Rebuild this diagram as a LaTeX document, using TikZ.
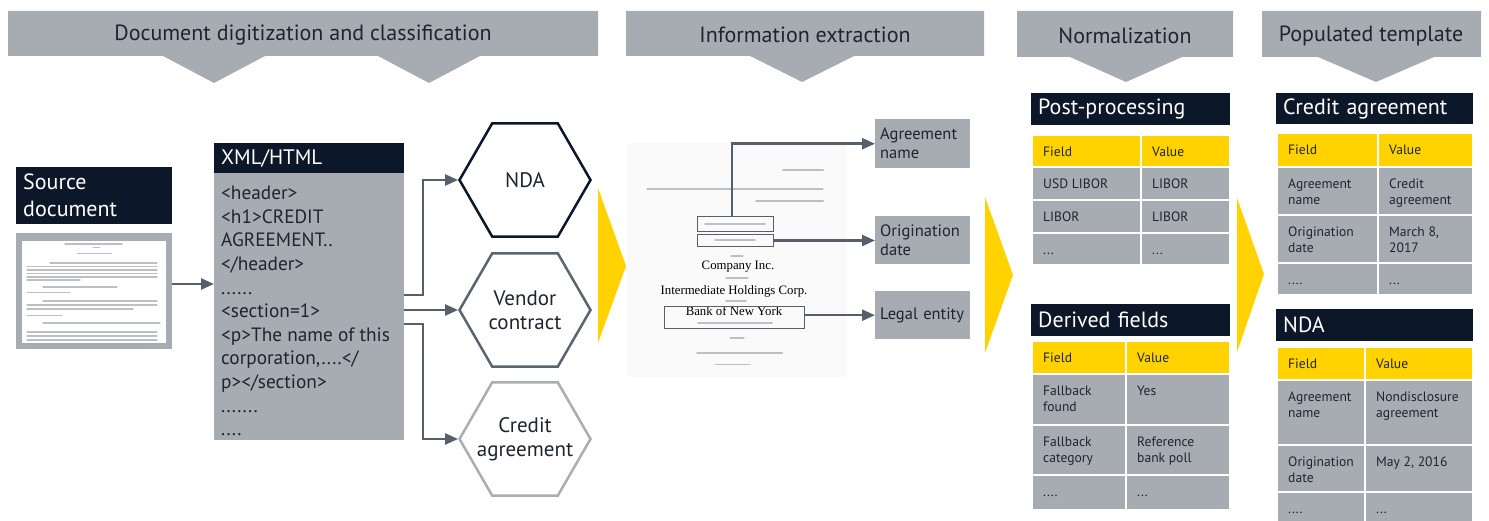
\documentclass[tikz,border=0pt]{standalone}
\usepackage{fontspec}
\setmainfont{PT Sans}
\newfontfamily\serifdoc{Liberation Serif}
\usetikzlibrary{arrows.meta,shapes.geometric}
\definecolor{eygray}{HTML}{A7ACB2}
\definecolor{eynavy}{HTML}{0C1729}
\definecolor{eyline}{HTML}{56606B}
\definecolor{eyyellow}{HTML}{FFD200}
\definecolor{eytext}{HTML}{1E2530}
\definecolor{eymid}{HTML}{5B6570}
\definecolor{eylight}{HTML}{A9AEB3}
\definecolor{blurgray}{HTML}{BCBFC3}
\definecolor{docbg}{HTML}{FAFAFA}
\newcommand\tcell[7]{%
  \fill[#5, draw=white, line width=1.3pt] (#1,#2) rectangle ++(#3,#4);
  \node[celltext] (#7) at (#1,#2) [xshift=11pt, yshift=-10pt] {\strut #6};}
\begin{document}
\begin{tikzpicture}[x=1pt,y=-1pt,
  banner/.style={fill=eygray},
  bannertext/.style={font=\fontsize{22}{26}\selectfont, text=eytext, inner sep=0pt},
  conn/.style={draw=eyline, line width=2.4pt, -{Triangle[length=13pt,width=11pt]}},
  hexa/.style={regular polygon, regular polygon sides=6, minimum size=131pt, inner sep=0pt,
    line width=2.5pt, fill=white},
  hexatext/.style={align=center, inner sep=0pt, font=\fontsize{21}{24}\selectfont, text=eytext},
  chev/.style={fill=eyyellow},
  navyhead/.style={fill=eynavy, text=white, anchor=north west, inner xsep=7pt, inner ysep=0pt,
    align=left, font=\fontsize{22}{27}\selectfont},
  graybox/.style={fill=eygray, text=eytext, anchor=north west, inner xsep=5pt, inner ysep=0pt,
    text width=85pt, align=left, font=\fontsize{16.5}{19}\selectfont},
  celltext/.style={anchor=north west, inner sep=0pt, align=left, text=eytext,
    font=\fontsize{13.6}{16}\selectfont},
  blur/.style={draw=blurgray, line width=1.8pt, line cap=round},
  docbox/.style={draw=eyline, line width=1pt, inner sep=0pt, anchor=north west},
  doctext/.style={font=\serifdoc\fontsize{12.8}{15}\selectfont, text=black, inner sep=0pt}
]
\useasboundingbox (0,0) rectangle (1489,521);

% ---------- banners ----------
\fill[banner] (8,11) -- (598,11) -- (598,56) -- (480,56) -- (429,83) -- (378,56) -- (265,56)
  -- (214,83) -- (163,56) -- (8,56) -- cycle;
\node[bannertext] (b1) at (303,35) {Document digitization and classification};
\fill[banner] (626,11) -- (984,11) -- (984,56) -- (854,56) -- (802,82) -- (750,56) -- (626,56) -- cycle;
\node[bannertext] (b2) at (805,35) {Information extraction};
\fill[banner] (1017,11) -- (1233,11) -- (1233,57) -- (1182,57) -- (1126,82) -- (1070,57) -- (1017,57) -- cycle;
\node[bannertext] (b3) at (1125,36) {Normalization};
\fill[banner] (1262,11) -- (1481,11) -- (1481,57) -- (1434,57) -- (1376,82) -- (1318,57) -- (1262,57) -- cycle;
\node[bannertext] (b4) at (1371,36) {Populated template};

% ---------- source document ----------
\node[navyhead, text width=142pt, minimum height=57pt] (srclabel) at (16,167) {Source\\document};
\node[fill=eygray, minimum width=156pt, minimum height=116pt, inner sep=0pt, anchor=north west] (srcimg) at (16,233) {};
\fill[white] (22,241) rectangle (166,343);
\draw[blur] (65,244) -- (122,244);
\draw[blur, line width=1pt] (93,248) -- (100,248);
\draw[blur, line width=0.8pt] (77,253) -- (112,253);
\draw[blur, line width=1.3pt] (50,263) -- (157,263);
\foreach \yy in {266.5,270,273.5,277} {\draw[blur, line width=1.3pt] (27,\yy) -- (157,\yy);}
\draw[blur, line width=1.3pt] (27,280) -- (80,280);
\draw[blur, line width=1.3pt] (43,287) -- (117,287);
\draw[blur, line width=0.8pt] (27,292) -- (70,292);
\draw[blur, line width=1.3pt] (43,301) -- (157,301);
\draw[blur, line width=1.3pt] (27,305) -- (157,305);
\draw[blur, line width=1.3pt] (27,309) -- (133,309);
\draw[blur, line width=0.8pt] (27,315) -- (62,315);
\draw[blur, line width=1.3pt] (43,323) -- (160,323);
\foreach \yy in {332,336,340} {\draw[blur, line width=1.3pt] (27,\yy) -- (157,\yy);}

% ---------- XML/HTML ----------
\node[navyhead, text width=176pt, minimum height=30pt, font=\fontsize{21}{24}\selectfont] (xmlhead) at (214,143) {XML/HTML};
\node[fill=eygray, minimum width=190pt, minimum height=267pt, inner sep=0pt, anchor=north west] (xmlbody) at (214,173) {};
\node[anchor=north west, inner sep=0pt, align=left, text=eytext, font=\fontsize{19.3}{23.6}\selectfont] (xmltext) at (221,183)
  {\strut<header>\\<h1>CREDIT\\AGREEMENT..\\</header>\\......\\<section=1>\\<p>The name of this\\corporation,....</\\p></section>\\.......\\....};

\coordinate (srcout) at (172,284);
\draw[conn] (srcout) -- (srcout -| xmlbody.west);

% ---------- hexagons ----------
\node[hexa, draw=eynavy] (nda) at (525,180) {};
\node[hexatext] (ndatext) at (nda.center) {NDA};
\node[hexa, draw=eymid] (vendor) at (525,310) {};
\node[hexatext] (vendortext) at (vendor.center) {Vendor\\contract};
\node[hexa, draw=eylight] (credit) at (525,439) {};
\node[hexatext] (credittext) at (credit.center) {Credit\\agreement};

\coordinate (x1) at (404,295);
\coordinate (x2) at (404,310);
\coordinate (x3) at (404,324);
\draw[conn] (x1) -- (423,295) |- (nda.west);
\draw[conn] (x2) -- (vendor.west);
\draw[conn] (x3) -- (423,324) |- (credit.west);

% ---------- chevrons ----------
\fill[chev] (598,188) -- (626,266) -- (598,343) -- cycle;
\fill[chev] (985,197) -- (1013,275) -- (985,353) -- cycle;
\fill[chev] (1237,198) -- (1264,274) -- (1237,352) -- cycle;

% ---------- information extraction document ----------
\fill[docbg] (627,143) rectangle (847,377);
\draw[blur, line width=2pt] (783,170) -- (823,170);
\draw[blur, line width=1.2pt] (647,189) -- (823,189);
\draw[blur, line width=2pt] (756,201) -- (823,201);
\draw[blur, line width=2pt] (705,224) -- (765,224);
\draw[blur, line width=1.6pt] (715,240) -- (755,240);
\draw[blur, line width=1.2pt] (731,256) -- (743,256);
\draw[blur, line width=1.2pt] (726,278) -- (748,278);
\draw[blur, line width=1.2pt] (726,301) -- (746,301);
\draw[blur, line width=1.6pt] (698,323) -- (772,323);
\draw[blur, line width=1.2pt] (730,338) -- (744,338);
\draw[blur, line width=2pt] (697,353) -- (782,353);
\draw[blur, line width=1pt] (715,365) -- (750,365);
\node[doctext] (company) at (738,267) {Company Inc.};
\node[doctext] (holdings) at (734,291) {Intermediate Holdings Corp.};
\node[doctext] (bank) at (734,311) {Bank of New York};
\node[docbox, minimum width=76pt, minimum height=15pt] (box1) at (697,216) {};
\node[docbox, minimum width=76pt, minimum height=12pt] (box2) at (697,234) {};
\node[docbox, minimum width=140pt, minimum height=22pt] (bankbox) at (664,306) {};

\node[graybox, minimum height=49pt] (agrname) at (875,119) {Agreement\\name};
\node[graybox, minimum height=48pt] (origdate) at (875,216) {Origination\\date};
\node[graybox, minimum height=48pt] (legal) at (875,291) {\mbox{Legal entity}};

\coordinate (b1top) at (732,216);
\draw[conn] (b1top) |- (agrname.west);
\draw[conn] (box2.east) -- (box2.east -| origdate.west);
\draw[conn] (legal.west -| bankbox.east) -- (legal.west);

% ---------- post-processing ----------
\node[navyhead, text width=185pt, minimum height=32pt] (pp) at (1031,93) {Post-processing};
\tcell{1032}{135}{109}{32}{eyyellow}{Field}{pp11}
\tcell{1141}{135}{89}{32}{eyyellow}{Value}{pp12}
\tcell{1032}{167}{109}{33}{eygray}{USD LIBOR}{pp21}
\tcell{1141}{167}{89}{33}{eygray}{LIBOR}{pp22}
\tcell{1032}{200}{109}{33}{eygray}{LIBOR}{pp31}
\tcell{1141}{200}{89}{33}{eygray}{LIBOR}{pp32}
\tcell{1032}{233}{109}{32}{eygray}{...}{pp41}
\tcell{1141}{233}{89}{32}{eygray}{...}{pp42}

% ---------- derived fields ----------
\node[navyhead, text width=185pt, minimum height=32pt] (df) at (1031,304) {Derived fields};
\tcell{1032}{341}{94}{33}{eyyellow}{Field}{df11}
\tcell{1126}{341}{104}{33}{eyyellow}{Value}{df12}
\tcell{1032}{374}{94}{51}{eygray}{Fallback\\found}{df21}
\tcell{1126}{374}{104}{51}{eygray}{Yes}{df22}
\tcell{1032}{425}{94}{50}{eygray}{Fallback\\category}{df31}
\tcell{1126}{425}{104}{50}{eygray}{Reference\\bank poll}{df32}
\tcell{1032}{475}{94}{35}{eygray}{....}{df41}
\tcell{1126}{475}{104}{35}{eygray}{...}{df42}

% ---------- credit agreement ----------
\node[navyhead, text width=183pt, minimum height=31pt] (ca) at (1276,93) {Credit agreement};
\tcell{1277}{133}{101}{34}{eyyellow}{Field}{ca11}
\tcell{1378}{133}{95}{34}{eyyellow}{Value}{ca12}
\tcell{1277}{167}{101}{48}{eygray}{Agreement\\name}{ca21}
\tcell{1378}{167}{95}{48}{eygray}{Credit\\agreement}{ca22}
\tcell{1277}{215}{101}{48}{eygray}{Origination\\date}{ca31}
\tcell{1378}{215}{95}{48}{eygray}{March 8,\\2017}{ca32}
\tcell{1277}{263}{101}{32}{eygray}{....}{ca41}
\tcell{1378}{263}{95}{32}{eygray}{...}{ca42}

% ---------- NDA ----------
\node[navyhead, text width=183pt, minimum height=32pt] (ndah) at (1276,309) {NDA};
\tcell{1277}{347}{88}{33}{eyyellow}{Field}{nd11}
\tcell{1365}{347}{108}{33}{eyyellow}{Value}{nd12}
\tcell{1277}{380}{88}{65}{eygray}{Agreement\\name}{nd21}
\tcell{1365}{380}{108}{65}{eygray}{Nondisclosure\\agreement}{nd22}
\tcell{1277}{445}{88}{47}{eygray}{Origination\\date}{nd31}
\tcell{1365}{445}{108}{47}{eygray}{May 2, 2016}{nd32}
\tcell{1277}{492}{88}{34}{eygray}{....}{nd41}
\tcell{1365}{492}{108}{34}{eygray}{...}{nd42}
\end{tikzpicture}
\end{document}
